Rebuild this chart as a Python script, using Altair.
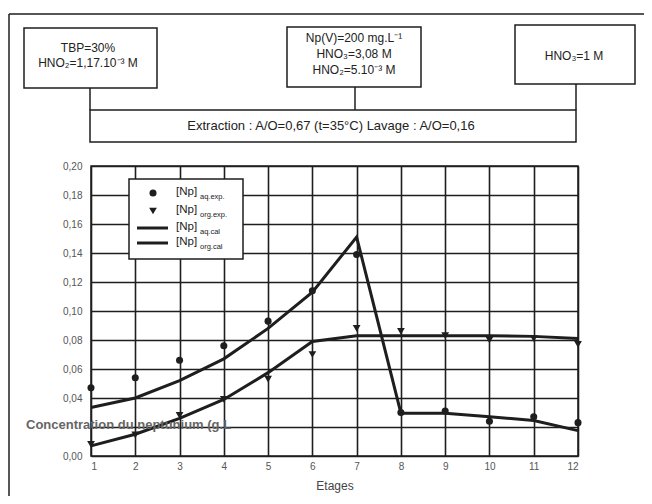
import altair as alt
import pandas as pd

# ---------------- data ----------------
stages = list(range(1, 13))
aq_exp = [0.047, 0.054, 0.066, 0.076, 0.093, 0.114, 0.139, 0.030, 0.031, 0.024, 0.027, 0.023]
org_exp = [0.008, 0.0145, 0.028, 0.039, 0.053, 0.070, 0.088, 0.086, 0.083, 0.080, 0.081, 0.077]
aq_cal = [0.0335, 0.040, 0.052, 0.067, 0.088, 0.113, 0.151, 0.0295, 0.0295, 0.027, 0.0245, 0.0175]
org_cal = [0.007, 0.015, 0.026, 0.039, 0.0575, 0.079, 0.083, 0.083, 0.083, 0.083, 0.0825, 0.081]
y_ticks = [0.00, 0.02, 0.04, 0.06, 0.08, 0.10, 0.12, 0.14, 0.16, 0.18, 0.20]

legend_labels = ["aq.exp.", "org.exp.", "aq.cal", "org.cal"]
box_left_lines = ["TBP=30%", "HNO₂=1,17.10⁻³ M"]
box_mid_lines = ["Np(V)=200 mg.L⁻¹", "HNO₃=3,08 M", "HNO₂=5.10⁻³ M"]
box_right_lines = ["HNO₃=1 M"]
banner_text = "Extraction : A/O=0,67 (t=35°C) Lavage : A/O=0,16"
y_title = "Concentration du neptunium (g.L"
x_title = "Etages"

INK = "#1e1e1e"
FONT = "Liberation Sans"

W, H = 487, 290

xs = alt.Scale(domain=[1, 12], nice=False, zero=False)
ys = alt.Scale(domain=[0, 0.2], nice=False, zero=True)

x_axis = alt.Axis(values=stages, grid=True, gridColor=INK, gridWidth=1.6,
                  ticks=False, domain=False, labelPadding=5, labelFontSize=10,
                  labelColor="#555", labelFont=FONT, labelOverlap=False, title=x_title,
                  titleFont=FONT, titleFontSize=12, titleFontWeight="normal",
                  titleColor="#444", titlePadding=9)
# the 0,02 label is hidden under the axis title in the original
y_axis = alt.Axis(values=y_ticks, grid=True, gridColor=INK, gridWidth=1.6,
                  ticks=False, domain=False, labelPadding=9, labelFontSize=10,
                  labelColor="#555", labelFont=FONT, labelOverlap=False, title=None,
                  labelExpr="abs(datum.value - 0.02) < 1e-6 ? '' : replace(format(datum.value, '.2f'), '.', ',')")

def xe():
    return alt.X("etage:Q", scale=xs, axis=x_axis)

def ye():
    return alt.Y("c:Q", scale=ys, axis=y_axis)

df_aq_cal = pd.DataFrame({"etage": stages, "c": aq_cal})
df_org_cal = pd.DataFrame({"etage": stages, "c": org_cal})
df_aq_exp = pd.DataFrame({"etage": stages, "c": aq_exp})
df_org_exp = pd.DataFrame({"etage": stages, "c": org_exp})

l_aq = alt.Chart(df_aq_cal).mark_line(color=INK, strokeWidth=3).encode(x=xe(), y=ye())
l_org = alt.Chart(df_org_cal).mark_line(color=INK, strokeWidth=3).encode(x=xe(), y=ye())
p_aq = alt.Chart(df_aq_exp).mark_point(shape="circle", filled=True, size=50, color=INK, opacity=1).encode(x=xe(), y=ye())
p_org = alt.Chart(df_org_exp).mark_point(shape="triangle-down", filled=True, size=60, color=INK, opacity=1).encode(x=xe(), y=ye())

one = pd.DataFrame({"k": [0]})

def rect(x1, y1, x2, y2, fill="white"):
    return alt.Chart(one).mark_rect(fill=fill, stroke=INK, strokeWidth=1.5).encode(
        x=alt.value(x1), x2=alt.value(x2), y=alt.value(y1), y2=alt.value(y2))

def rule(x1, y1, x2, y2, w=1.5):
    return alt.Chart(one).mark_rule(color=INK, strokeWidth=w).encode(
        x=alt.value(x1), x2=alt.value(x2), y=alt.value(y1), y2=alt.value(y2))

def text(s, x, y, size=12, align="center", color="#222", weight="normal"):
    return alt.Chart(one).mark_text(text=s, align=align, baseline="middle", fontSize=size,
                                    font=FONT, color=color, fontWeight=weight).encode(
        x=alt.value(x), y=alt.value(y))

deco = []
# outer frame (left and top edges)
deco.append(rule(-82, -152, -82, H + 60))
deco.append(rule(-82, -152, 560, -152))
# connectors
deco.append(rule(-1, -78, -1, -56))
deco.append(rule(264, -79, 264, -56))
deco.append(rule(485, -82, 485, -56))
# boxes
deco.append(rect(-67, -138, 66, -78))
deco.append(rect(196, -139, 330, -79))
deco.append(rect(424, -141, 544, -82))
deco.append(rect(-1, -56, 485, -24))
# box texts
for s, yy in zip(box_left_lines, [-118, -103]):
    deco.append(text(s, -3, yy, 12))
for s, yy in zip(box_mid_lines, [-128, -112, -96]):
    deco.append(text(s, 263, yy, 12))
deco.append(text(box_right_lines[0], 483, -110, 12))
deco.append(text(banner_text, 240, -40, 13))

# legend
leg = [rect(38, 13, 152, 93)]
leg.append(alt.Chart(one).mark_point(shape="circle", filled=True, size=50, color=INK, opacity=1)
           .encode(x=alt.value(62), y=alt.value(27)))
leg.append(alt.Chart(one).mark_point(shape="triangle-down", filled=True, size=60, color=INK, opacity=1)
           .encode(x=alt.value(62), y=alt.value(45)))
leg.append(rule(46, 62, 77, 62, 3))
leg.append(rule(46, 77, 77, 77, 3))
for lab, yy in zip(legend_labels, [27, 45, 62, 77]):
    leg.append(text("[Np]", 85, yy - 1, 11.5, align="left"))
    leg.append(text(lab, 109, yy + 4, 7.5, align="left"))

ytitle = text(y_title, -65, 259, 13, align="left", color="#666", weight="bold")

chart = alt.layer(l_aq, l_org, p_aq, p_org, *deco, *leg, ytitle).properties(
    width=W, height=H,
    autosize=alt.AutoSizeParams(type="none"),
    padding={"left": 83, "top": 158, "right": 66, "bottom": 40},
    background="white",
).configure_view(stroke=INK, strokeWidth=1.5)

chart.save("out.html", embed_options={"renderer": "svg", "actions": False})
